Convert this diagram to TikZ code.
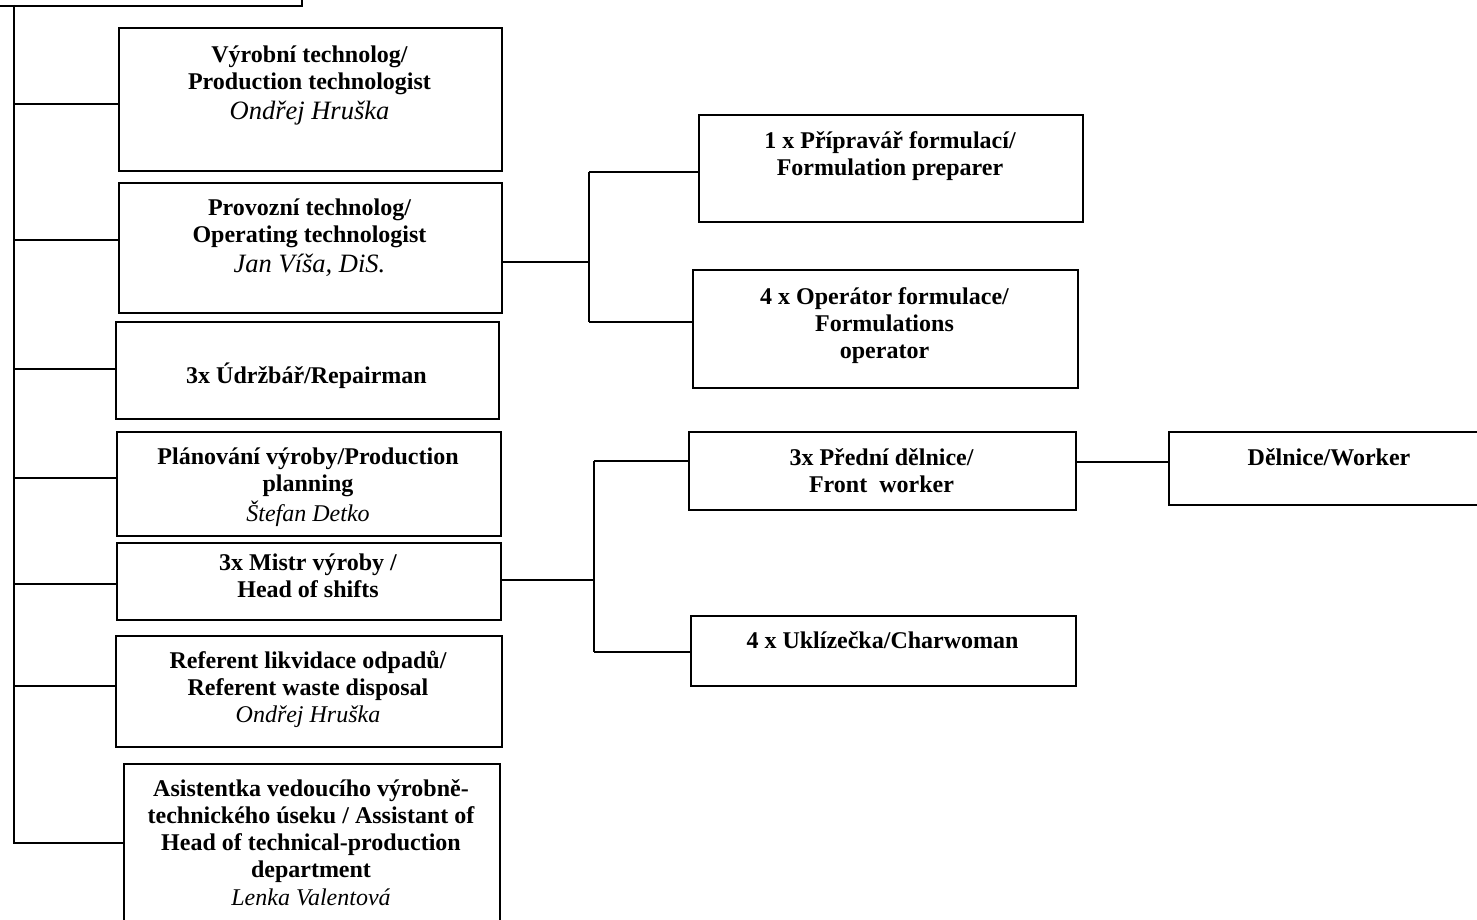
\documentclass[tikz,border=0pt]{standalone}
\usepackage{fontspec}
\setmainfont{Liberation Serif}
\usetikzlibrary{calc}
\tikzset{
  bx/.style={draw=black, line width=1.6pt, rectangle, inner sep=0pt, anchor=north west},
  txt/.style={inner sep=0pt, align=center, anchor=north, font=\fontsize{24}{27.2}\selectfont\bfseries},
  ln/.style={draw=black, line width=1.5pt},
}
\newcommand\orgbox[7]{%
  \node[bx, minimum width={(#4-#2)*1pt}, minimum height={(#5-#3)*1pt}] (#1) at (#2,#3) {};
  \node[txt] (#1t) at ({(#2+#4)/2},{#6-19}) {#7};
}
\newcommand\nm[1]{\mdseries\itshape #1}
\newcommand\nmb[1]{{\fontsize{26.5}{28}\selectfont\mdseries\itshape #1}}
\begin{document}
\begin{tikzpicture}[x=1pt,y=-1pt]
\useasboundingbox (0,0) rectangle (1477,920);
% top (cut off) box
\node[bx, minimum width=320pt, minimum height=60pt] (top) at (-19,-55) {};
% left column
\orgbox{b1}{118}{27}{501}{170}{62}{\strut Výrobní technolog/\\\strut Production technologist\\[3pt]\strut\nmb{Ondřej Hruška}}
\orgbox{b2}{118}{182}{501}{312}{215}{\strut Provozní technolog/\\\strut Operating technologist\\[3pt]\strut\nmb{Jan Víša, DiS.}}
\orgbox{b3}{115}{321}{498}{418}{382}{\strut 3x Údržbář/Repairman}
\orgbox{b4}{116}{431}{500}{535}{464}{\strut Plánování výroby/Production\\\strut planning\\\strut\nm{Štefan Detko}}
\orgbox{b5}{116}{542}{500}{619}{570}{\strut 3x Mistr výroby /\\\strut Head of shifts}
\orgbox{b6}{115}{635}{501}{746}{668}{\strut Referent likvidace odpadů/\\\strut Referent waste disposal\\\strut\nm{Ondřej Hruška}}
\orgbox{b7}{123}{763}{499}{940}{796}{\strut Asistentka vedoucího výrobně-\\\strut technického úseku / Assistant of\\\strut Head of technical-production\\\strut department\\\strut\nm{Lenka Valentová}}
% right boxes
\orgbox{r1}{698}{114}{1082}{221}{148}{\strut 1 x Přípravář formulací/\\\strut Formulation preparer}
\orgbox{r2}{692}{269}{1077}{387}{304}{\strut 4 x Operátor formulace/\\\strut Formulations\\\strut operator}
\orgbox{r3}{688}{431}{1075}{509}{465}{\strut 3x Přední dělnice/\\\strut Front\ \ worker}
\orgbox{r4}{690}{615}{1075}{685}{648}{\strut 4 x Uklízečka/Charwoman}
\orgbox{r5}{1168}{431}{1490}{504}{465}{\strut Dělnice/Worker}
% trunk
\coordinate (tk0) at (14,5);
\coordinate (tk7) at (14,843);
\draw[ln] (tk0) -- (tk7) -- (tk7 -| b7.west);
\foreach \n/\yy in {b1/104,b2/240,b3/369,b4/478,b5/584,b6/686}{
  \coordinate (c\n) at (14,\yy);
  \draw[ln] (c\n) -- (c\n -| \n.west);
}
% Provozni branch
\coordinate (j1) at (589,262);
\coordinate (j1a) at (589,172);
\coordinate (j1b) at (589,322);
\draw[ln] (j1 -| b2.east) -- (j1);
\draw[ln] (j1a) -- (j1b);
\draw[ln] (j1a) -- (j1a -| r1.west);
\draw[ln] (j1b) -- (j1b -| r2.west);
% Mistr branch
\coordinate (j2) at (594,580);
\coordinate (j2a) at (594,461);
\coordinate (j2b) at (594,652);
\draw[ln] (j2 -| b5.east) -- (j2);
\draw[ln] (j2a) -- (j2b);
\draw[ln] (j2a) -- (j2a -| r3.west);
\draw[ln] (j2b) -- (j2b -| r4.west);
% worker
\coordinate (j3) at (1120,462);
\draw[ln] (j3 -| r3.east) -- (j3 -| r5.west);
\end{tikzpicture}
\end{document}
